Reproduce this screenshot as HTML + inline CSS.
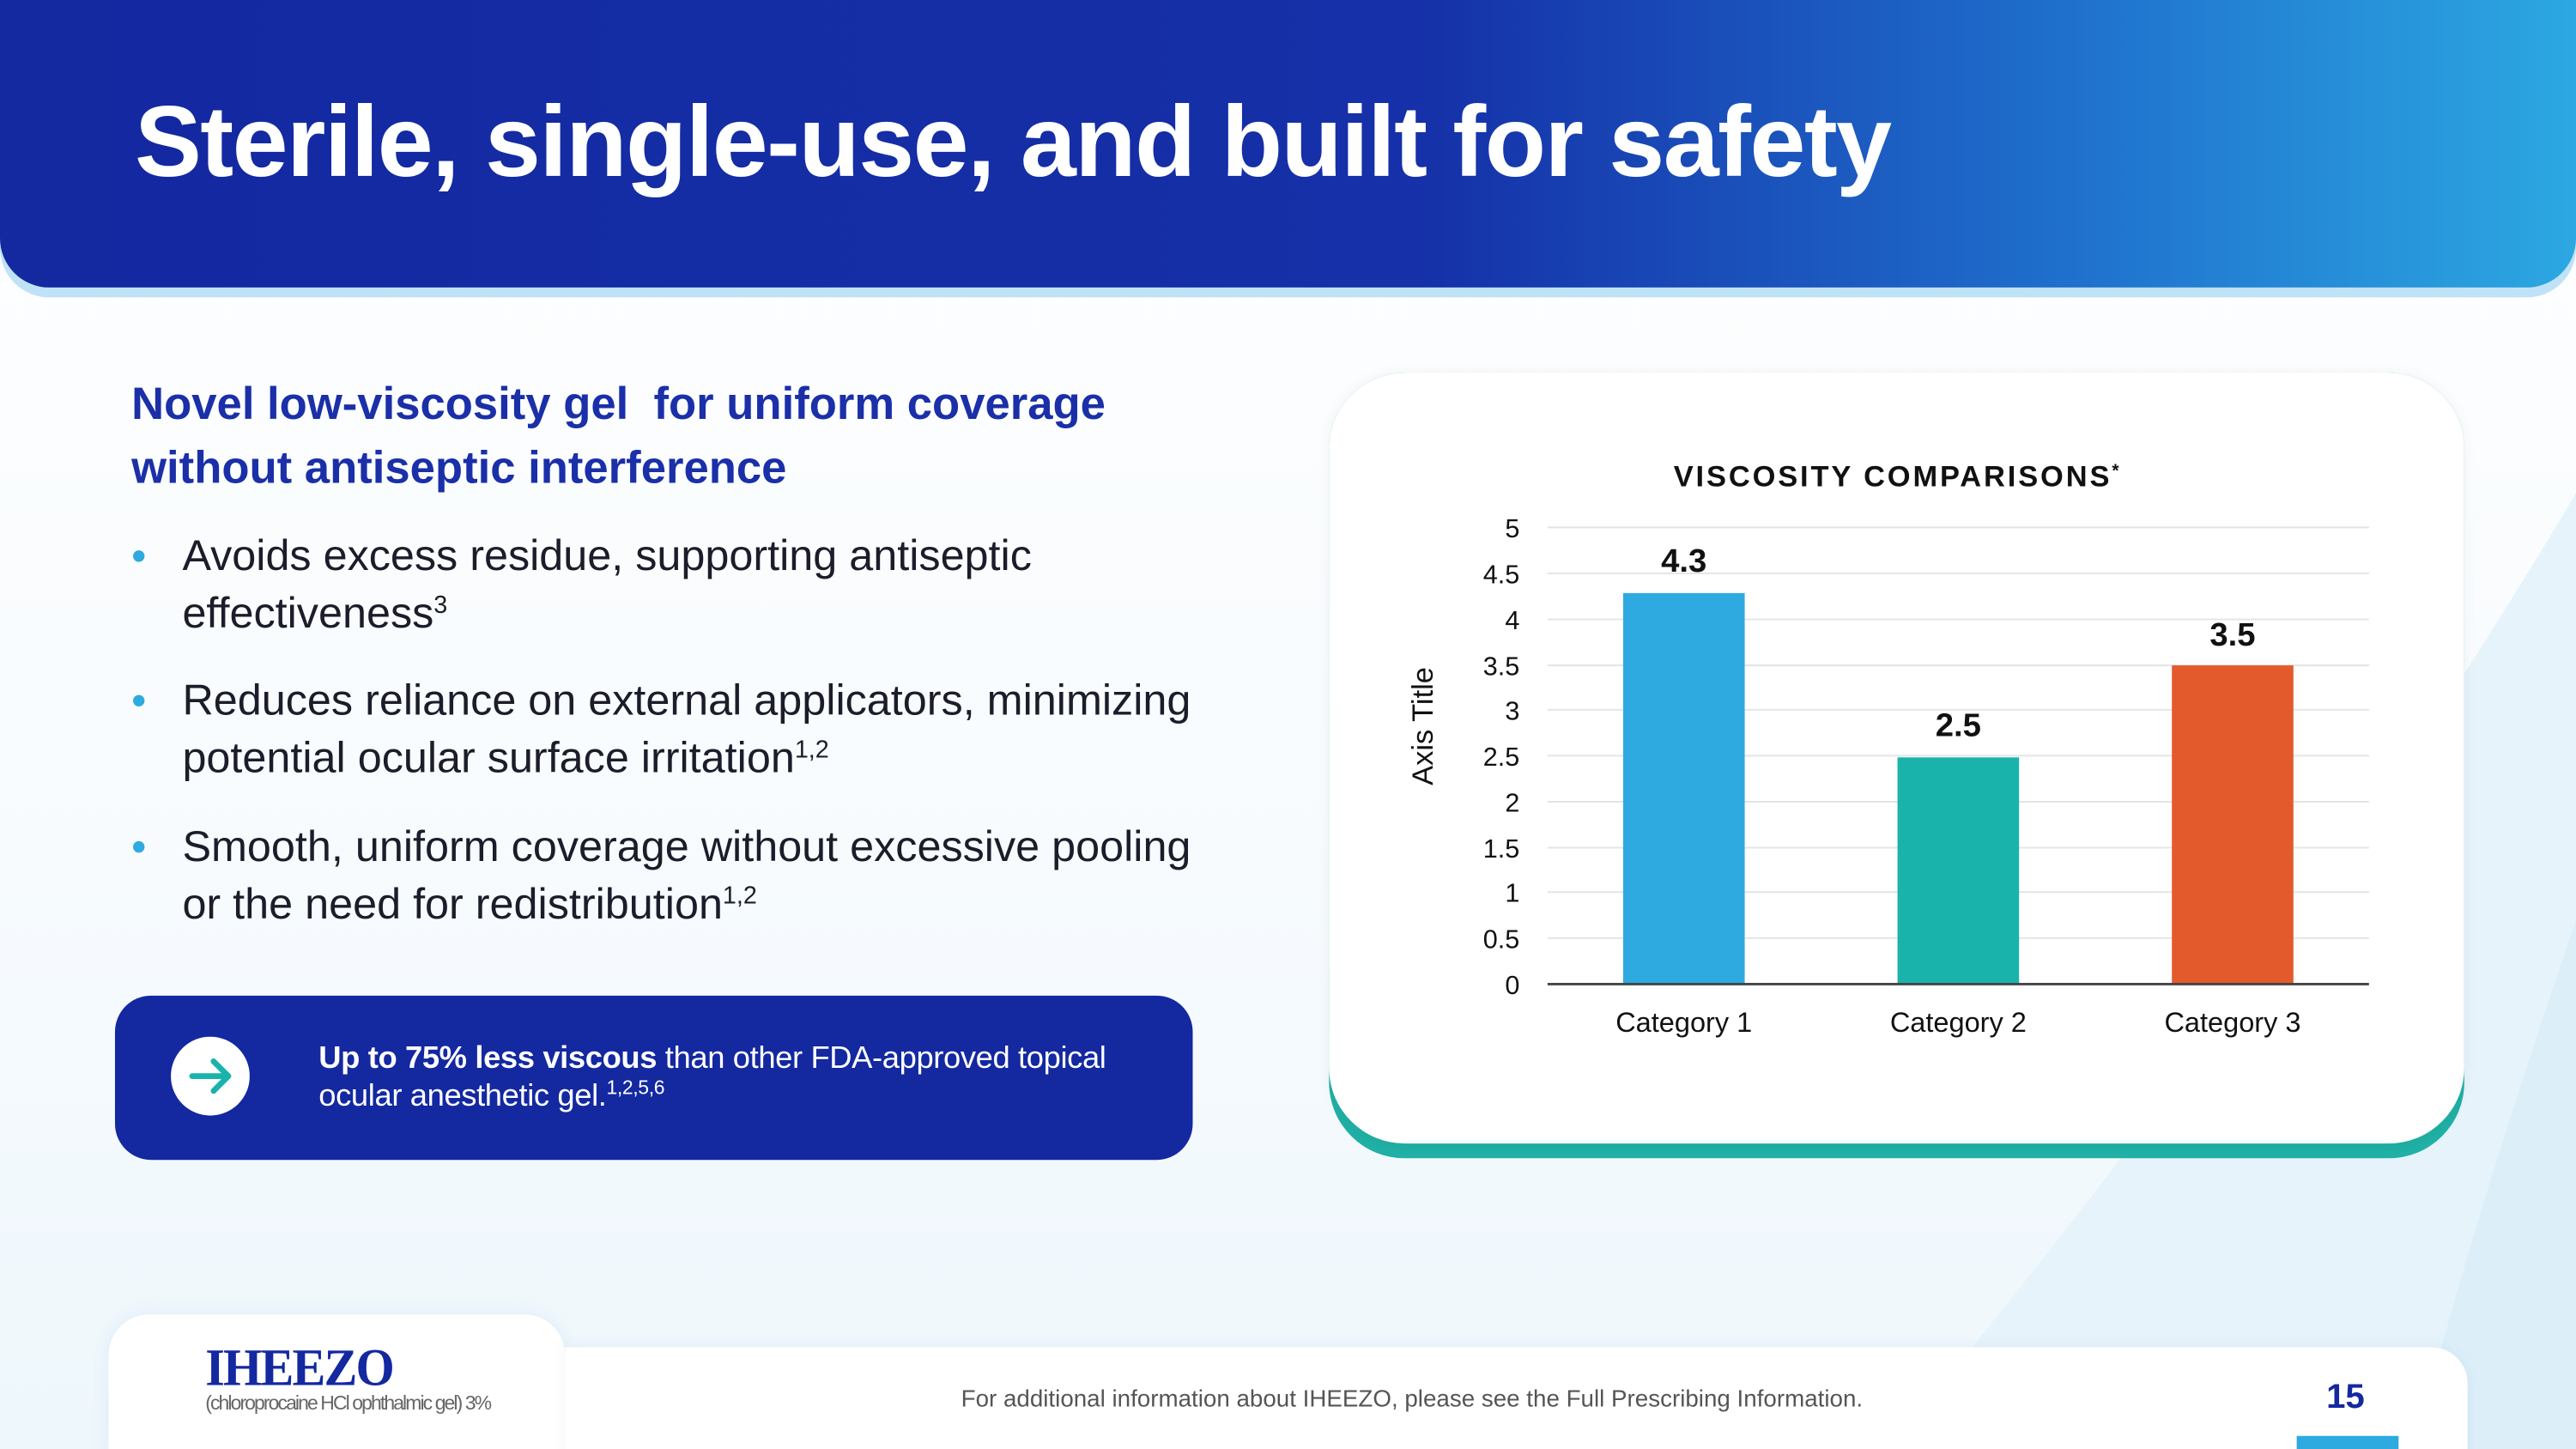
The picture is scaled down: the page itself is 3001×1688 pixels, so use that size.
<!DOCTYPE html>
<html><head><meta charset="utf-8"><style>
html,body{margin:0;padding:0;width:3001px;height:1688px;overflow:hidden;background:#f3f9fd}
#w{position:absolute;left:0;top:0;width:1568px;height:882px;transform:scale(1.91390);transform-origin:0 0;
font-family:"Liberation Sans",sans-serif;background:linear-gradient(180deg,#ffffff 0%,#f7fbfe 60%,#eef7fc 100%);overflow:hidden}
.abs{position:absolute}
sup{line-height:0;vertical-align:0;position:relative;top:-0.6em}
</style></head><body><div id="w">
<svg class="abs" style="left:0;top:0" width="1568" height="882">
<path d="M1568 300 C1450 500 1300 700 1150 882 L1568 882 Z" fill="#e6f3fb"/>
<path d="M1568 560 C1520 700 1490 800 1470 882 L1568 882Z" fill="#dcEFF9"/>
</svg>
<div class="abs" style="left:0;top:0;width:1568px;height:181px;border-radius:0 0 30px 30px;background:#bfe2f6"></div>
<div class="abs" style="left:0;top:0;width:1568px;height:175px;border-radius:0 0 30px 30px;background:linear-gradient(90deg,#1428a0 0%,#1530a8 55%,#1f6fcc 80%,#2ca8e2 100%)"></div>
<div class="abs" style="left:82px;top:50px;color:#fff;font-weight:bold;font-size:61px;line-height:72px;letter-spacing:-0.8px">Sterile, single-use, and built for safety</div>
<div class="abs" style="left:80px;top:226px;color:#1a2fa8;font-weight:bold;font-size:27.5px;line-height:39px;letter-spacing:0px">Novel low-viscosity gel&nbsp; for uniform coverage<br>without antiseptic interference</div>
<div class="abs" style="left:111px;top:321px;color:#1c1c2a;font-size:26.3px;line-height:35px;width:670px">
<div style="position:relative">Avoids excess residue, supporting antiseptic<br>effectiveness<sup style="font-size:15px">3</sup><span class="abs" style="left:-30px;top:14px;width:7px;height:7px;border-radius:50%;background:#2eaae1"></span></div>
<div style="position:relative;margin-top:18px">Reduces reliance on external applicators, minimizing<br>potential ocular surface irritation<sup style="font-size:15px">1,2</sup><span class="abs" style="left:-30px;top:14px;width:7px;height:7px;border-radius:50%;background:#2eaae1"></span></div>
<div style="position:relative;margin-top:19px">Smooth, uniform coverage without excessive pooling<br>or the need for redistribution<sup style="font-size:15px">1,2</sup><span class="abs" style="left:-30px;top:14px;width:7px;height:7px;border-radius:50%;background:#2eaae1"></span></div>
</div>
<div class="abs" style="left:70px;top:606px;width:656px;height:100px;border-radius:22px;background:#1428a0"></div>
<svg class="abs" style="left:104px;top:631px" width="48" height="48"><circle cx="24" cy="24" r="24" fill="#fff"/><path d="M13 24 H34 M26 15 L35 24 L26 33" stroke="#1ab3ac" stroke-width="3.5" fill="none" stroke-linecap="round" stroke-linejoin="round"/></svg>
<div class="abs" style="left:194px;top:633px;color:#fff;font-size:19px;line-height:23px;letter-spacing:-0.2px"><b>Up to 75% less viscous</b> than other FDA-approved topical<br>ocular anesthetic gel.<sup style="font-size:12px">1,2,5,6</sup></div>
<div class="abs" style="left:809px;top:227px;width:691px;height:478px;border-radius:46px;background:#20b0a5"></div>
<div class="abs" style="left:809px;top:227px;width:691px;height:469px;border-radius:46px;background:#fff;box-shadow:0 0 8px rgba(0,0,0,0.05)"></div>
<svg class="abs" style="left:0;top:0" width="1568" height="882" font-family="Liberation Sans, sans-serif">
<text x="1155" y="296" text-anchor="middle" font-size="18" font-weight="bold" letter-spacing="1.5" fill="#111">VISCOSITY COMPARISONS<tspan font-size="11" dy="-6">*</tspan></text>
<g stroke="#e4e4e4" stroke-width="1">
<line x1="942" x2="1442" y1="321" y2="321"/><line x1="942" x2="1442" y1="349" y2="349"/><line x1="942" x2="1442" y1="377" y2="377"/><line x1="942" x2="1442" y1="405" y2="405"/><line x1="942" x2="1442" y1="432" y2="432"/><line x1="942" x2="1442" y1="460" y2="460"/><line x1="942" x2="1442" y1="488" y2="488"/><line x1="942" x2="1442" y1="516" y2="516"/><line x1="942" x2="1442" y1="543" y2="543"/><line x1="942" x2="1442" y1="571" y2="571"/></g>
<g font-size="16" fill="#111" text-anchor="end">
<text x="925" y="327">5</text><text x="925" y="355">4.5</text><text x="925" y="383">4</text><text x="925" y="411">3.5</text><text x="925" y="438">3</text><text x="925" y="466">2.5</text><text x="925" y="494">2</text><text x="925" y="522">1.5</text><text x="925" y="549">1</text><text x="925" y="577">0.5</text><text x="925" y="605">0</text></g>
<rect x="988" y="361" width="74" height="238" fill="#2eaae1"/>
<rect x="1155" y="461" width="74" height="138" fill="#1ab3ac"/>
<rect x="1322" y="405" width="74" height="194" fill="#e35b2c"/>
<line x1="942" x2="1442" y1="599" y2="599" stroke="#444" stroke-width="1.5"/>
<g font-size="20" font-weight="bold" fill="#111" text-anchor="middle"><text x="1025" y="348">4.3</text><text x="1192" y="448">2.5</text><text x="1359" y="393">3.5</text></g>
<g font-size="17" fill="#111" text-anchor="middle"><text x="1025" y="628">Category 1</text><text x="1192" y="628">Category 2</text><text x="1359" y="628">Category 3</text></g>
<text transform="translate(872,442) rotate(-90)" text-anchor="middle" font-size="18" fill="#111">Axis Title</text>
</svg>
<div class="abs" style="left:66px;top:800px;width:278px;height:100px;border-radius:25px 25px 0 0;background:#fff;box-shadow:0 0 10px rgba(100,140,200,0.12)"></div>
<div class="abs" style="left:344px;top:820px;width:1158px;height:80px;border-radius:0 22px 0 0;background:#fff;box-shadow:0 0 8px rgba(100,140,200,0.1)"></div>
<div class="abs" style="left:125px;top:814px;color:#1428a0;font-family:'Liberation Serif',serif;font-weight:bold;font-size:32px;line-height:36px;letter-spacing:-1px;transform:scaleX(0.95);transform-origin:0 0">IHEEZO</div>
<div class="abs" style="left:125px;top:847px;color:#666;font-size:12px;letter-spacing:-1px;line-height:14px">(chloroprocaine HCl ophthalmic gel) 3%</div>
<div class="abs" style="left:585px;top:843px;color:#555;font-size:14.5px;line-height:18px">For additional information about IHEEZO, please see the Full Prescribing Information.</div>
<div class="abs" style="left:1416px;top:839px;color:#1428a0;font-weight:bold;font-size:21px;line-height:24px">15</div>
<div class="abs" style="left:1398px;top:874px;width:62px;height:8px;background:#2eaae1"></div>
</div></body></html>
